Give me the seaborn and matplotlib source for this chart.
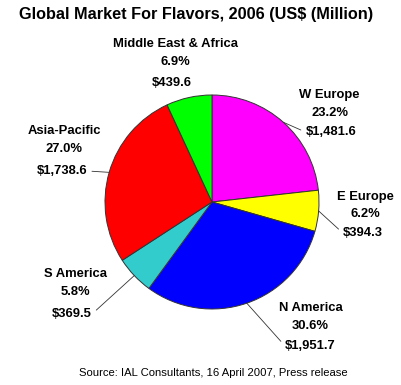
import matplotlib
matplotlib.use('Agg')
import matplotlib.pyplot as plt
import seaborn as sns
import numpy as np

# dados do grafico (US$ milhoes, 2006)
regions = ['W Europe', 'E Europe', 'N America', 'S America', 'Asia-Pacific', 'Middle East & Africa']
values = [1481.6, 394.3, 1951.7, 369.5, 1738.6, 439.6]
pct_labels = ['23.2%', '6.2%', '30.6%', '5.8%', '27.0%', '6.9%']
value_labels = ['$1,481.6', '$394.3', '$1,951.7', '$369.5', '$1,738.6', '$439.6']
colors = ['#FF00FF', '#FFFF00', '#0000FF', '#33CCCC', '#FF0000', '#00FF00']

# posicao dos rotulos (x, y do nome, y do %, x e y do valor) em unidades do raio
label_pos = [
    (1.10, 1.00, 0.83, 1.11, 0.654),
    (1.43, 0.047, -0.112, 1.41, -0.29),
    (0.92, -0.991, -1.159, 0.92, -1.346),
    (-1.28, -0.673, -0.841, -1.308, -1.047),
    (-1.383, 0.664, 0.495, -1.402, 0.290),
    (-0.345, 1.477, 1.308, -0.374, 1.112),
]
has_leader = [True, True, True, True, True, False]

sns.set_style('white')
plt.rcParams['font.family'] = ['Liberation Sans', 'DejaVu Sans']
plt.rcParams['text.color'] = 'black'

fig = plt.figure(figsize=(4.02, 3.85), dpi=100)
ax = fig.add_axes([0, 0, 1, 1])

wedges, _ = ax.pie(values, colors=colors, startangle=90, counterclock=False,
                   radius=1.0, wedgeprops=dict(edgecolor='#333333', linewidth=0.7))

fs = 9.4
for i, w in enumerate(wedges):
    nx, ny_name, ny_pct, vx, vy = label_pos[i]
    ax.text(nx, ny_name, regions[i], ha='center', va='center', fontsize=fs, fontweight='bold')
    ax.text(nx, ny_pct, pct_labels[i], ha='center', va='center', fontsize=fs, fontweight='bold')
    if has_leader[i]:
        ang = np.deg2rad((w.theta1 + w.theta2) / 2)
        rel = (0, 0.5) if vx > 0 else (1, 0.5)
        ax.annotate(value_labels[i], xy=(np.cos(ang), np.sin(ang)), xytext=(vx, vy),
                    ha='center', va='center', fontsize=fs, fontweight='bold',
                    arrowprops=dict(arrowstyle='-', color='#333333', lw=0.6,
                                    relpos=rel, shrinkA=1, shrinkB=0))
    else:
        ax.text(vx, vy, value_labels[i], ha='center', va='center', fontsize=fs, fontweight='bold')

ax.set_xlim(-212 / 107, (402 - 212) / 107)
ax.set_ylim(-183 / 107, (385 - 183) / 107)
ax.set_aspect('equal')
ax.axis('off')

fig.text(196 / 402, 1 - 14 / 385, 'Global Market For Flavors, 2006 (US$ (Million)',
         ha='center', va='center', fontsize=11.7, fontweight='bold')
fig.text(213 / 402, 1 - 373 / 385, 'Source: IAL Consultants, 16 April 2007, Press release',
         ha='center', va='center', fontsize=8.1)

plt.savefig('out.png', dpi=100)
plt.close()
